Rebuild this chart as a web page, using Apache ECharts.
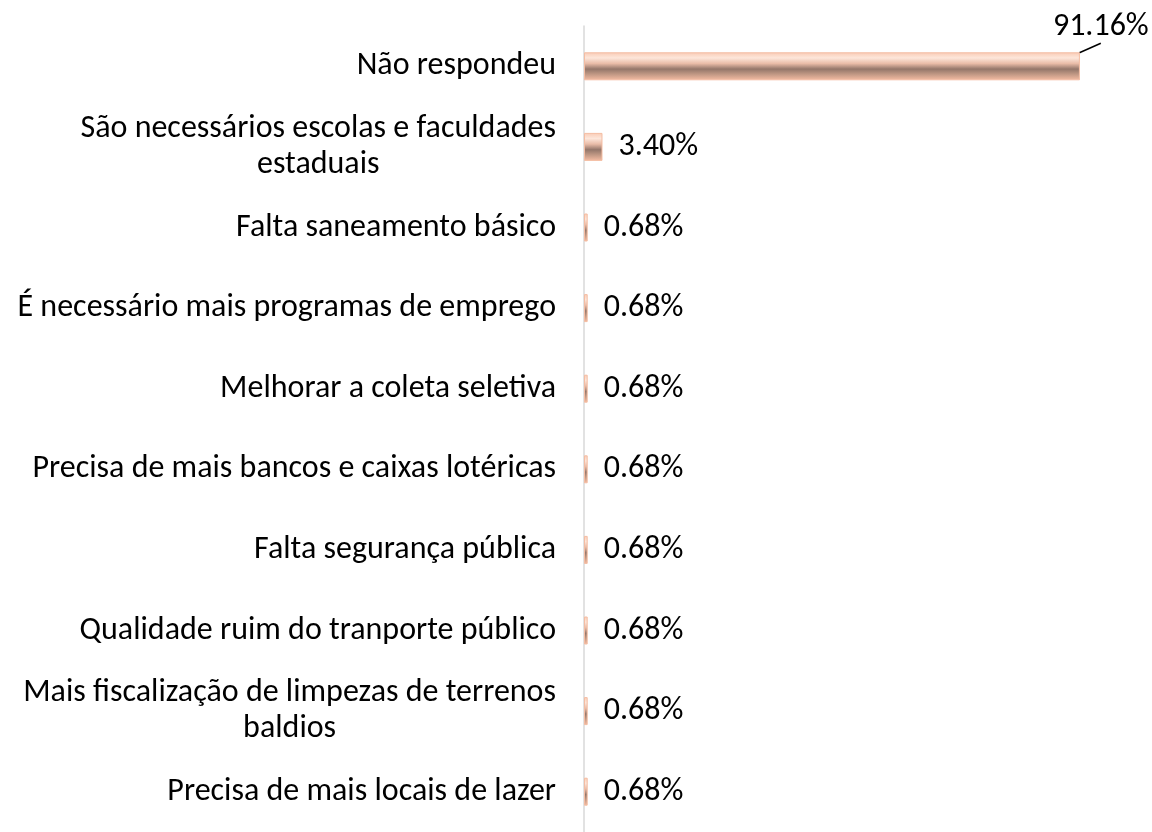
<!DOCTYPE html>
<html>
<head>
<meta charset="utf-8">
<script src="https://cdn.jsdelivr.net/npm/echarts@6/dist/echarts.min.js"></script>
<style>
html, body { margin: 0; padding: 0; background: #fff; }
#chart { width: 1152px; height: 832px; }
</style>
</head>
<body>
<div id="chart"></div>
<script>
// categorias (de cima para baixo)
var categorias = [
	'Não respondeu',
	'São necessários escolas e faculdades\nestaduais',
	'Falta saneamento básico',
	'É necessário mais programas de emprego',
	'Melhorar a coleta seletiva',
	'Precisa de mais bancos e caixas lotéricas',
	'Falta segurança pública',
	'Qualidade ruim do tranporte público',
	'Mais fiscalização de limpezas de terrenos\nbaldios',
	'Precisa de mais locais de lazer'
];
var valores = [91.16, 3.40, 0.68, 0.68, 0.68, 0.68, 0.68, 0.68, 0.68, 0.68];

var fonte = 'Carlito, Lato, "Open Sans", sans-serif';

var dados = valores.map(function(v, i) {
	var item = { value: v };
	if (i == 0) {
		item.labelLine = { show: true, lineStyle: { color: '#000', width: 1.5 } };
	}
	return item;
});

var option = {
	animation: false,
	grid: {
		left: 584,
		right: 24,
		top: 26,
		height: 812
	},
	xAxis: {
		type: 'value',
		min: 0,
		max: 100,
		show: false
	},
	yAxis: {
		type: 'category',
		inverse: true,
		data: categorias,
		axisLine: { show: true, lineStyle: { color: '#d9d9d9', width: 1.5 } },
		axisTick: { show: false },
		axisLabel: {
			margin: 28,
			color: '#000',
			fontFamily: fonte,
			fontSize: 32,
			lineHeight: 36,
			formatter: function(val) {
				if (val.indexOf('\n') < 0) return val;
				return val.split('\n').map(function(l) { return '{c|' + l + '}'; }).join('\n');
			},
			rich: {
				c: { align: 'center', fontFamily: fonte, fontSize: 32, lineHeight: 36, color: '#000' }
			}
		}
	},
	series: [{
		type: 'bar',
		data: dados,
		barWidth: 28,
		itemStyle: {
			color: new echarts.graphic.LinearGradient(0, 0, 0, 1, [
				{ offset: 0, color: '#f9cbb5' },
				{ offset: 0.2, color: '#fde6da' },
				{ offset: 0.4, color: '#e9bca8' },
				{ offset: 0.6, color: '#94766a' },
				{ offset: 0.75, color: '#b8927f' },
				{ offset: 1, color: '#f6bda4' }
			]),
			borderColor: '#f4bda3',
			borderWidth: 1
		},
		label: {
			show: true,
			position: 'right',
			distance: 16,
			color: '#000',
			fontFamily: fonte,
			fontSize: 32,
			formatter: function(p) { return p.value.toFixed(2) + '%'; }
		},
		labelLayout: function(params) {
			if (params.dataIndex == 0) {
				return { dx: -43, dy: -39 };
			}
			return {};
		}
	}]
};

var grafico = echarts.init(document.getElementById('chart'));
grafico.setOption(option);
</script>
</body>
</html>
